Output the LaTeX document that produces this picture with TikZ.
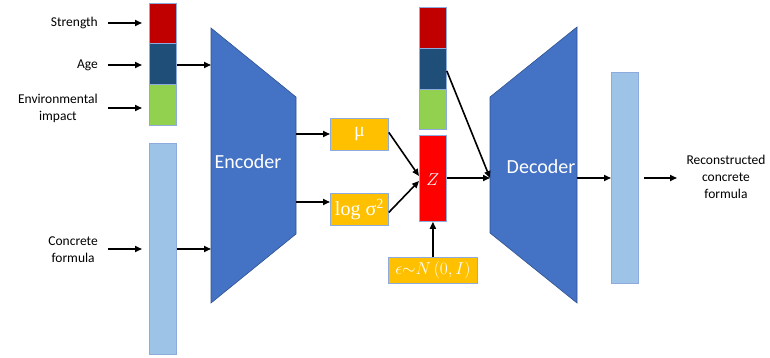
\documentclass[tikz,border=0pt]{standalone}
\usepackage{fontspec}
\setmainfont{Carlito}
\newfontfamily\mathserif{Liberation Serif}
\usetikzlibrary{arrows.meta,calc}
\definecolor{encblue}{HTML}{4472C4}
\definecolor{encline}{HTML}{2F528F}
\definecolor{cred}{HTML}{C00000}
\definecolor{cdblue}{HTML}{1F4E79}
\definecolor{cgreen}{HTML}{92D050}
\definecolor{clblue}{HTML}{9DC3E6}
\definecolor{corange}{HTML}{FFC000}
\definecolor{zred}{HTML}{FF0000}
\definecolor{boxline}{HTML}{8FAADC}
\tikzset{
  box/.style={draw=boxline, line width=0.8pt, inner sep=0pt, anchor=north west},
  arr/.style={-{Triangle[length=7pt,width=6pt]}, line width=1.6pt},
  lab/.style={font=\fontsize{13.5}{17}\selectfont, align=center, inner sep=0pt},
  wtxt/.style={text=white, inner sep=0pt},
  trap/.style={fill=encblue, draw=encline, line width=0.6pt}
}
\begin{document}
\begin{tikzpicture}[x=1pt,y=-1pt]
\useasboundingbox (0,0) rectangle (770,358);
% left stack
\node[box, fill=cred, minimum width=27pt, minimum height=40pt] (sred) at (149,3) {};
\node[box, fill=cdblue, minimum width=27pt, minimum height=41pt] (sblue) at (149,43) {};
\node[box, fill=cgreen, minimum width=27pt, minimum height=41pt] (sgreen) at (149,84) {};
\node[box, fill=clblue, minimum width=27pt, minimum height=211pt] (lbar) at (149,143) {};
% labels
\node[lab, anchor=east] (strength) at (98,23) {Strength};
\node[lab, anchor=east] (age) at (98,65) {Age};
\node[lab, anchor=east] (env) at (98,108) {Environmental\\impact};
\node[lab, anchor=east] (conc) at (98,250) {Concrete\\formula};
\draw[arr] (108,23) -- (142,23);
\draw[arr] (108,65) -- (142,65);
\draw[arr] (108,108) -- (142,108);
\draw[arr] (108,249) -- (142,249);
% encoder
\draw[trap] (211,28) -- (296,97) -- (296,234) -- (211,303) -- cycle;
\node[wtxt, font=\fontsize{20}{22}\selectfont] (enc) at (248,162) {Encoder};
\coordinate (encA) at (211,65);
\coordinate (encB) at (211,249);
\draw[arr] (sblue.east |- encA) -- (encA);
\draw[arr] (lbar.east |- encB) -- (encB);
% mu and logsigma
\node[box, fill=corange, minimum width=58pt, minimum height=32pt] (mu) at (330,118) {};
\node[wtxt, font=\mathserif\fontsize{20}{22}\selectfont] at (mu.center) {μ};
\node[box, fill=corange, minimum width=58pt, minimum height=32pt] (ls) at (330,193) {};
\node[wtxt, font=\mathserif\fontsize{20}{22}\selectfont] at (ls.center) {log σ\textsuperscript{2}};
\draw[arr] (296,134) -- (mu.west |- 0,134);
\draw[arr] (296,202) -- (ls.west |- 0,202);
% middle stack and z
\node[box, fill=cred, minimum width=27pt, minimum height=41pt] (mred) at (419,7) {};
\node[box, fill=cdblue, minimum width=27pt, minimum height=41pt] (mblue) at (419,48) {};
\node[box, fill=cgreen, minimum width=27pt, minimum height=40pt] (mgreen) at (419,89) {};
\node[box, fill=zred, minimum width=27pt, minimum height=86pt] (z) at (419,135) {};
\node[wtxt, font=\fontsize{18}{20}\selectfont] at ([yshift=-1pt]z.center) {$Z$};
\node[box, fill=corange, minimum width=89pt, minimum height=26pt] (eps) at (388,257) {};
\node[wtxt, font=\fontsize{16}{18}\selectfont] at (eps.center) {$\epsilon{\sim}N\,(0,I)$};
\draw[arr] (mu.east) ++(0,-2) -- (419,176);
\draw[arr] (ls.east) ++(0,3) -- (419,181);
\draw[arr] (eps.north) -- (z.south);
% decoder
\draw[trap] (490,97) -- (577,27) -- (577,303) -- (490,233) -- cycle;
\node[wtxt, font=\fontsize{20}{22}\selectfont] (dec) at (541,167) {Decoder};
\coordinate (decin) at (490,178);
\draw[arr] (z.east |- decin) -- (decin);
\draw[arr] ([yshift=-2pt]mblue.east) -- (decin);
% right bar
\node[box, fill=clblue, minimum width=27pt, minimum height=211pt] (rbar) at (611,72) {};
\coordinate (decout) at (577,178);
\draw[arr] (decout) -- (rbar.west |- decout);
\node[lab] (recon) at (726,177) {Reconstructed\\concrete\\formula};
\draw[arr] (644,178) -- (677,178);
\end{tikzpicture}
\end{document}
